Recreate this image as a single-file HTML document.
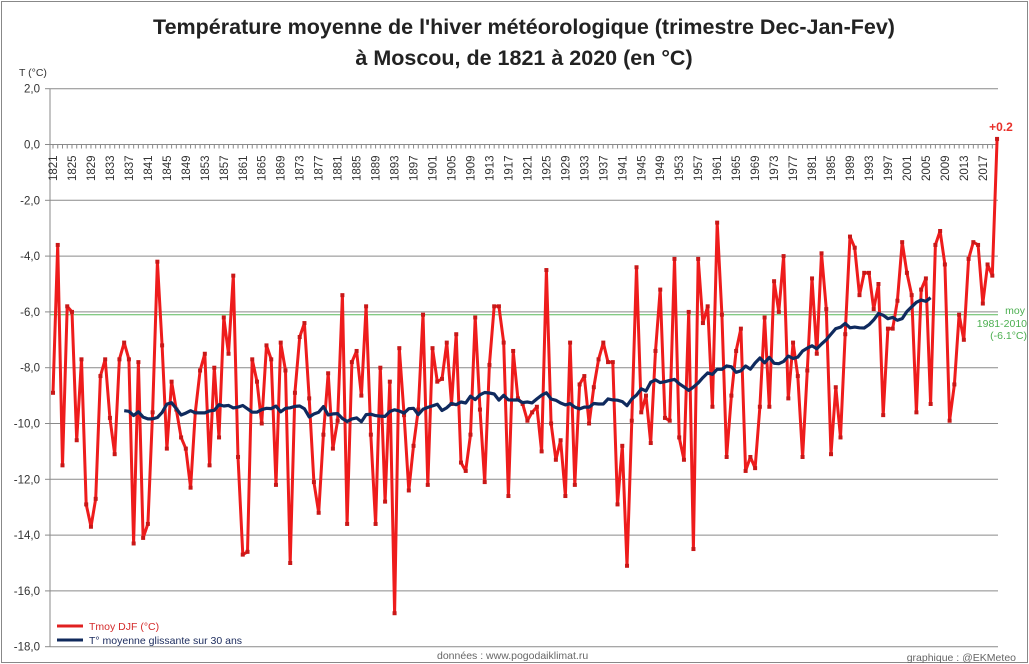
<!DOCTYPE html>
<html><head><meta charset="utf-8"><style>
html,body{margin:0;padding:0;background:#fff;}
svg{display:block;font-family:"Liberation Sans",sans-serif;}
</style></head><body>
<svg id="s" width="1029" height="664" viewBox="0 0 1029 664" xmlns="http://www.w3.org/2000/svg">
<rect x="1.5" y="1.5" width="1026" height="661" fill="#fff" stroke="#888" stroke-width="1"/>
<text x="524" y="34" text-anchor="middle" font-size="21.5" font-weight="bold" fill="#222">Température moyenne de l'hiver météorologique (trimestre Dec-Jan-Fev)</text>
<text x="524" y="65" text-anchor="middle" font-size="21.5" font-weight="bold" fill="#222">à Moscou, de 1821 à 2020 (en °C)</text>
<text x="19" y="76" font-size="10.5" fill="#333">T (°C)</text>
<g id="g"></g>
<text x="1025" y="314" text-anchor="end" font-size="10.5" fill="#4caf50">moy</text>
<text x="1027" y="327" text-anchor="end" font-size="10.5" fill="#4caf50">1981-2010</text>
<text x="1027" y="339" text-anchor="end" font-size="10.5" fill="#4caf50">(-6.1°C)</text>
<text x="1001" y="131" text-anchor="middle" font-size="12" font-weight="bold" fill="#e8302a">+0.2</text>
<line x1="57" y1="626" x2="83" y2="626" stroke="#e02020" stroke-width="3"/>
<text x="89" y="630" font-size="10.5" fill="#d42a2a">Tmoy DJF (°C)</text>
<line x1="57" y1="640" x2="83" y2="640" stroke="#102a5c" stroke-width="3"/>
<text x="89" y="644" font-size="10.5" fill="#1a2a5c">T° moyenne glissante sur 30 ans</text>
<text x="437" y="659" font-size="10.5" fill="#666">données : www.pogodaiklimat.ru</text>
<text x="1016" y="661" text-anchor="end" font-size="10.5" fill="#666">graphique : @EKMeteo</text>
</svg>
<script>
var d=[-8.9,-3.6,-11.5,-5.8,-6.0,-10.6,-7.7,-12.9,-13.7,-12.7,-8.3,-7.7,-9.8,-11.1,-7.7,-7.1,-7.7,-14.3,-7.8,-14.1,-13.6,-9.6,-4.2,-7.2,-10.9,-8.5,-9.5,-10.5,-10.9,-12.3,-9.6,-8.1,-7.5,-11.5,-8.0,-10.5,-6.2,-7.5,-4.7,-11.2,-14.7,-14.6,-7.7,-8.5,-10.0,-7.2,-7.7,-12.2,-7.1,-8.1,-15.0,-8.9,-6.9,-6.4,-9.1,-12.1,-13.2,-10.4,-8.2,-10.9,-9.9,-5.4,-13.6,-7.8,-7.4,-9.0,-5.8,-10.4,-13.6,-8.0,-12.8,-8.5,-16.8,-7.3,-9.7,-12.4,-10.8,-9.5,-6.1,-12.2,-7.3,-8.5,-8.4,-7.1,-9.3,-6.8,-11.4,-11.7,-10.4,-6.2,-9.5,-12.1,-7.9,-5.8,-5.8,-7.1,-12.6,-7.4,-9.1,-9.3,-9.9,-9.6,-9.4,-11.0,-4.5,-10.0,-11.3,-10.6,-12.6,-7.1,-12.2,-8.6,-8.3,-10.0,-8.7,-7.7,-7.1,-7.8,-7.8,-12.9,-10.8,-15.1,-9.9,-4.4,-9.6,-9.0,-10.7,-7.4,-5.2,-9.8,-9.9,-4.1,-10.5,-11.3,-6.0,-14.5,-4.1,-6.4,-5.8,-9.4,-2.8,-6.1,-11.2,-9.0,-7.4,-6.6,-11.7,-11.2,-11.6,-9.4,-6.2,-9.4,-4.9,-6.0,-4.0,-9.1,-7.1,-8.3,-11.2,-8.1,-4.8,-7.5,-3.9,-5.9,-11.1,-8.7,-10.5,-6.8,-3.3,-3.7,-5.4,-4.6,-4.6,-5.9,-5.0,-9.7,-6.6,-6.6,-5.6,-3.5,-4.6,-5.4,-9.6,-5.2,-4.8,-9.3,-3.6,-3.1,-4.3,-9.9,-8.6,-6.1,-7.0,-4.1,-3.5,-3.6,-5.7,-4.3,-4.7,0.2];
function X(i){return 53+i*4.744;}
function Y(v){return 144.5-v*27.9;}
var h='';
for(var k=2;k>=-18;k-=2){var y=Y(k);
 if(k!=0)h+='<line x1="50" y1="'+y+'" x2="998" y2="'+y+'" stroke="#8a8a8a" stroke-width="1"/>';
 h+='<line x1="45" y1="'+y+'" x2="50" y2="'+y+'" stroke="#8a8a8a"/>';
 h+='<text x="40" y="'+(y+4)+'" text-anchor="end" font-size="11.5" fill="#333">'+(k<0?'-':'')+Math.abs(k)+',0</text>';}
h+='<line x1="50" y1="'+Y(-6.1)+'" x2="998" y2="'+Y(-6.1)+'" stroke="#5cb85c" stroke-width="1"/>';
h+='<line x1="50" y1="89" x2="50" y2="647" stroke="#8a8a8a"/>';
h+='<line x1="50" y1="144.5" x2="998" y2="144.5" stroke="#8a8a8a"/>';
for(var i=0;i<200;i++){var x=X(i);h+='<line x1="'+x+'" y1="144.5" x2="'+x+'" y2="148.5" stroke="#8a8a8a"/>';
 if(i%4==0)h+='<text transform="translate('+(x+4)+',181) rotate(-90)" font-size="11.5" fill="#333">'+(1821+i)+'</text>';}
var p='';for(i=0;i<200;i++)p+=(i?'L':'M')+X(i).toFixed(1)+','+Y(d[i]).toFixed(1);
h+='<path d="'+p+'" fill="none" stroke="#ee1c1c" stroke-width="3" stroke-linejoin="round"/>';
for(i=0;i<200;i++)h+='<rect x="'+(X(i)-2)+'" y="'+(Y(d[i])-2)+'" width="4" height="4" fill="#c81818"/>';
var m='';for(i=15;i<=185;i++){var s=0;for(var j=i-15;j<i+15;j++)s+=d[j];m+=(i==15?'M':'L')+X(i).toFixed(1)+','+Y(s/30).toFixed(1);}
h+='<path d="'+m+'" fill="none" stroke="#0f2a5e" stroke-width="3.2" stroke-linejoin="round"/>';
document.getElementById('g').innerHTML=h;
</script>
</body></html>
